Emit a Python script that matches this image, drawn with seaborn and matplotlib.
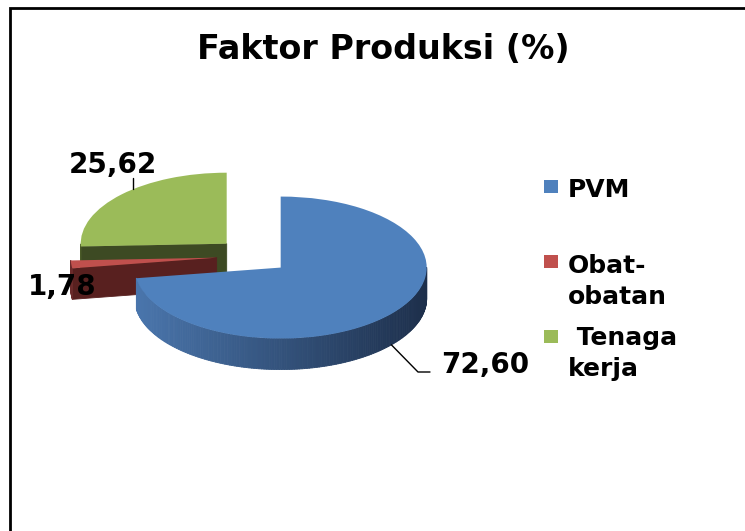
import numpy as np
import matplotlib
matplotlib.use("Agg")
import matplotlib.pyplot as plt
import seaborn as sns
from matplotlib.collections import PolyCollection
from matplotlib.colors import to_rgb
from matplotlib.patches import Rectangle

# data
categories = ["PVM", "Obat-obatan", "Tenaga kerja"]
legend_labels = ["PVM", "Obat-\nobatan", " Tenaga\nkerja"]
values = [72.60, 1.78, 25.62]
value_labels = ["72,60", "1,78", "25,62"]

top_colors = sns.color_palette(["#4f81bd", "#c0504d", "#9bbb59"])
wall_light = ["#4a76ad", "#6a2a2a", "#4a5a28"]
wall_dark = ["#1d2f4b", "#4a1a1a", "#36421c"]
face_colors = ["#2a4470", "#58201f", "#3d4a23"]

sns.set_theme(style="white")
plt.rcParams["font.family"] = ["DejaVu Sans"]
plt.rcParams["text.color"] = "black"

W, H = 745, 531
CX, CY = 253, 256      # pie centre, pixels
RX, RY = 146, 71       # pixels per pie unit (flattened ellipse)
DEPTH = 31 / RY
EXPLODE = 0.25

fig = plt.figure(figsize=(W / 100, H / 100), dpi=100)
ax = fig.add_axes([0, 0, 1, 1])


def px(x, y):
    return (x - CX) / RX, (CY - y) / RY


wedges, _ = ax.pie(values, colors=top_colors, startangle=90, counterclock=False,
                   explode=[EXPLODE] * len(values), wedgeprops=dict(linewidth=0))
ax.set_aspect("auto")
ax.set_xlim(-CX / RX, (W - CX) / RX)
ax.set_ylim(-(H - CY) / RY, CY / RY)
ax.axis("off")

# extrude the wedges: back slices first
draw_order = {2: 1, 1: 2, 0: 3}
for i, w in enumerate(wedges):
    z = draw_order[i] * 10
    cx, cy = w.center
    t1, t2 = np.radians(w.theta1), np.radians(w.theta2)
    polys, cols = [], []
    for t, normal in ((t1, t1 - np.pi / 2), (t2, t2 + np.pi / 2)):
        if np.sin(normal) < -1e-6:
            ex, ey = cx + np.cos(t), cy + np.sin(t)
            polys.append([(cx, cy), (ex, ey), (ex, ey - DEPTH), (cx, cy - DEPTH)])
            cols.append(to_rgb(face_colors[i]))
    angs = np.linspace(t1, t2, int(abs(np.degrees(t2 - t1))) + 2)
    lo, hi = np.array(to_rgb(wall_light[i])), np.array(to_rgb(wall_dark[i]))
    for a0, a1 in zip(angs[:-1], angs[1:]):
        am = (a0 + a1) / 2
        if np.sin(am) < 0:
            p0 = (cx + np.cos(a0), cy + np.sin(a0))
            p1 = (cx + np.cos(a1), cy + np.sin(a1))
            polys.append([p0, p1, (p1[0], p1[1] - DEPTH), (p0[0], p0[1] - DEPTH)])
            cols.append(tuple(lo + (hi - lo) * (np.cos(am) + 1) / 2))
    ax.add_collection(PolyCollection(polys, facecolors=cols, edgecolors=cols,
                                     linewidths=0.6, zorder=z))
    w.set_zorder(z + 1)

# data labels
blue = wedges[0]
m = np.radians((blue.theta1 + blue.theta2) / 2)
start = (blue.center[0] + np.cos(m), blue.center[1] + np.sin(m) - DEPTH)
ax.plot([start[0], px(418, 372)[0], px(430, 372)[0]],
        [start[1], px(418, 372)[1], px(430, 372)[1]], color="black", lw=1, zorder=50)
ax.text(*px(441, 373), value_labels[0], ha="left", va="baseline",
        fontsize=20, fontweight="bold", zorder=51)

green = wedges[2]
m = np.radians((green.theta1 + green.theta2) / 2 - 6)
gx, gy = green.center[0] + np.cos(m), green.center[1] + np.sin(m)
ax.plot([gx, gx], [gy, px(0, 178)[1]], color="black", lw=1, zorder=50)
ax.text(*px(113, 173), value_labels[2], ha="center", va="baseline",
        fontsize=20, fontweight="bold", zorder=51)

ax.text(*px(28, 295), value_labels[1], ha="left", va="baseline",
        fontsize=20, fontweight="bold", zorder=51)

# title
fig.text(383 / W, 1 - 59 / H, "Faktor Produksi (%)", ha="center", va="baseline",
         fontsize=24, fontweight="bold")

# legend
legend_rows = [(180, 178), (255, 254), (330, 326)]
for lab, col, (sq_top, txt_top) in zip(legend_labels, top_colors, legend_rows):
    fig.add_artist(Rectangle((544 / W, 1 - (sq_top + 13) / H), 14 / W, 13 / H,
                             transform=fig.transFigure, color=col, lw=0))
    fig.text(568 / W, 1 - txt_top / H, lab, ha="left", va="top", fontsize=18,
             fontweight="bold", linespacing=1.35)

# chart border (right and bottom edges fall outside the image)
fig.add_artist(Rectangle((10 / W, -0.1), 1.1, 1.1 - 8 / H, transform=fig.transFigure,
                         fill=False, lw=2, edgecolor="black"))

fig.savefig("out.png", dpi=100)
